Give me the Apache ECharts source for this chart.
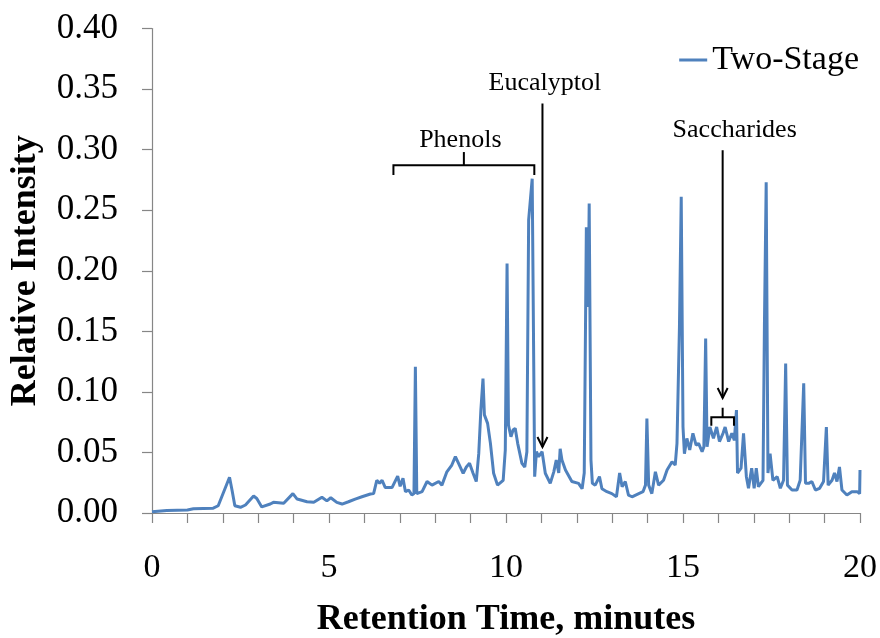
<!DOCTYPE html>
<html>
<head>
<meta charset="utf-8">
<script src="https://cdn.jsdelivr.net/npm/echarts@6/dist/echarts.min.js"></script>
<style>
  html, body { margin: 0; padding: 0; background: #fff; }
  #chart { width: 880px; height: 638px; }
</style>
</head>
<body>
<div id="chart"></div>
<script>
// retention time (minutes) and relative intensity
var retentionTime = [
  0.00, 0.42, 1.00, 1.17, 1.73, 1.87, 2.19, 2.26, 2.34, 2.50, 2.64, 2.87, 2.96, 3.10, 3.34, 3.43,
  3.72, 3.98, 4.10, 4.38, 4.57, 4.80, 4.94, 5.05, 5.22, 5.37, 5.55, 5.74, 5.93, 6.17, 6.26, 6.35,
  6.43, 6.50, 6.59, 6.68, 6.78, 6.94, 7.01, 7.09, 7.16, 7.25, 7.34, 7.40, 7.44, 7.48, 7.63, 7.77,
  7.91, 8.10, 8.19, 8.33, 8.47, 8.57, 8.66, 8.79, 8.88, 8.97, 9.07, 9.16, 9.23, 9.29, 9.35, 9.39,
  9.48, 9.56, 9.65, 9.76, 9.92, 9.98, 10.03, 10.07, 10.14, 10.20, 10.26, 10.33, 10.45, 10.53, 10.59, 10.64,
  10.74, 10.81, 10.86, 10.92, 11.02, 11.11, 11.25, 11.35, 11.42, 11.49, 11.53, 11.58, 11.68, 11.86, 12.05, 12.15,
  12.21, 12.27, 12.30, 12.32, 12.35, 12.40, 12.44, 12.52, 12.64, 12.71, 12.85, 12.99, 13.12, 13.21, 13.28, 13.37,
  13.46, 13.56, 13.75, 13.87, 13.94, 13.98, 14.03, 14.12, 14.22, 14.31, 14.45, 14.55, 14.69, 14.78, 14.83, 14.90,
  14.95, 15.00, 15.04, 15.11, 15.19, 15.28, 15.37, 15.44, 15.54, 15.59, 15.64, 15.68, 15.76, 15.86, 15.95, 16.03,
  16.13, 16.19, 16.29, 16.38, 16.45, 16.51, 16.54, 16.64, 16.71, 16.79, 16.85, 16.94, 17.01, 17.07, 17.13, 17.26,
  17.30, 17.35, 17.40, 17.46, 17.54, 17.66, 17.75, 17.84, 17.90, 17.95, 18.08, 18.22, 18.31, 18.41, 18.46, 18.55,
  18.64, 18.74, 18.86, 18.97, 19.05, 19.10, 19.21, 19.28, 19.35, 19.42, 19.49, 19.63, 19.77, 19.92, 19.99, 20.00
];
var twoStage = [
  0.001, 0.002, 0.0025, 0.0035, 0.004, 0.006, 0.0295, 0.019, 0.006, 0.0047, 0.0066, 0.014, 0.012, 0.005, 0.0074, 0.0088,
  0.008, 0.016, 0.0115, 0.0093, 0.0088, 0.013, 0.010, 0.0126, 0.0088, 0.0074, 0.0093, 0.0115, 0.0134, 0.0157, 0.016, 0.027,
  0.0245, 0.027, 0.021, 0.021, 0.021, 0.0305, 0.022, 0.0286, 0.0176, 0.019, 0.0148, 0.016, 0.1207, 0.016, 0.0176, 0.026,
  0.023, 0.026, 0.023, 0.034, 0.0396, 0.0465, 0.041, 0.0328, 0.038, 0.041, 0.0328, 0.026, 0.049, 0.085, 0.111, 0.081,
  0.074, 0.0575, 0.0328, 0.023, 0.027, 0.052, 0.206, 0.0726, 0.063, 0.0685, 0.0699, 0.0575, 0.041, 0.038, 0.0506, 0.242,
  0.276, 0.030, 0.0506, 0.0465, 0.0506, 0.0328, 0.0245, 0.034, 0.0437, 0.033, 0.053, 0.0437, 0.0355, 0.026, 0.0245, 0.020,
  0.033, 0.236, 0.2376, 0.17, 0.2555, 0.0437, 0.0245, 0.023, 0.030, 0.020, 0.0176, 0.016, 0.0134, 0.033, 0.0217, 0.026,
  0.0148, 0.0134, 0.016, 0.0176, 0.023, 0.078, 0.023, 0.016, 0.034, 0.023, 0.027, 0.0355, 0.0423, 0.0396, 0.0575, 0.154,
  0.261, 0.071, 0.049, 0.0616, 0.052, 0.0658, 0.056, 0.0575, 0.0506, 0.0547, 0.144, 0.0547, 0.071, 0.0616, 0.071, 0.059,
  0.0658, 0.071, 0.059, 0.0658, 0.060, 0.085, 0.033, 0.037, 0.0658, 0.030, 0.0204, 0.037, 0.0204, 0.037, 0.0217, 0.027,
  0.154, 0.273, 0.033, 0.049, 0.027, 0.030, 0.0204, 0.027, 0.1235, 0.023, 0.019, 0.019, 0.027, 0.107, 0.0245, 0.0245,
  0.026, 0.019, 0.0204, 0.026, 0.071, 0.023, 0.027, 0.033, 0.026, 0.038, 0.019, 0.0148, 0.0176, 0.0176, 0.016, 0.0355
];

// annotation anchors, in data units
var phenolsSpan = [6.82, 10.80];      // bracket ends (minutes)
var phenolsLevels = [0.279, 0.287, 0.298]; // leg bottom, bar, centre tick top
var phenolsLabel = [8.71, 0.308];
var eucalyptolArrow = [11.03, 0.338, 0.0545]; // x, top, tip
var eucalyptolLabel = [11.1, 0.355];
var sacchSpan = [15.80, 16.44];
var sacchLevels = [0.072, 0.079, 0.0869];
var sacchArrow = [16.12, 0.2995, 0.0949];
var sacchLabel = [16.46, 0.316];

var serif = '"Liberation Serif", "DejaVu Serif", serif';
var axisGrey = '#868686';

var chart = echarts.init(document.getElementById('chart'), null, { renderer: 'canvas' });

var seriesData = retentionTime.map(function (t, i) {
  return [t, twoStage[i]];
});

var option = {
  animation: false,
  backgroundColor: '#fff',
  grid: {
    left: 152,
    right: 20,
    top: 28.5,
    bottom: 125,
    containLabel: false,
    outerBoundsMode: 'none'
  },
  legend: {
    data: [{ name: 'Two-Stage', icon: 'rect' }],
    right: 16,
    top: 38,
    itemWidth: 28,
    itemHeight: 3,
    itemGap: 4,
    textStyle: {
      fontFamily: serif,
      fontSize: 34,
      color: '#000'
    }
  },
  xAxis: {
    type: 'value',
    min: 0,
    max: 20,
    interval: 1,
    name: 'Retention Time, minutes',
    nameLocation: 'middle',
    nameGap: 89,
    nameTextStyle: {
      fontFamily: serif,
      fontSize: 36,
      fontWeight: 'bold',
      color: '#000'
    },
    axisLine: { show: true, onZero: false, lineStyle: { color: axisGrey, width: 1.2 } },
    axisTick: { show: true, inside: false, length: 10, lineStyle: { color: axisGrey, width: 1.2 } },
    splitLine: { show: false },
    axisLabel: {
      margin: 38,
      fontFamily: serif,
      fontSize: 34,
      color: '#000',
      formatter: function (v) {
        return v % 5 === 0 ? String(v) : '';
      }
    }
  },
  yAxis: {
    type: 'value',
    min: 0,
    max: 0.4,
    interval: 0.05,
    name: 'Relative Intensity',
    nameLocation: 'middle',
    nameGap: 108,
    nameTextStyle: {
      fontFamily: serif,
      fontSize: 36,
      fontWeight: 'bold',
      color: '#000'
    },
    axisLine: { show: true, lineStyle: { color: axisGrey, width: 1.2 } },
    axisTick: { show: true, inside: false, length: 10, lineStyle: { color: axisGrey, width: 1.2 } },
    splitLine: { show: false },
    axisLabel: {
      margin: 34,
      fontFamily: serif,
      fontSize: 35,
      color: '#000',
      formatter: function (v) {
        return v.toFixed(2);
      }
    }
  },
  series: [{
    name: 'Two-Stage',
    type: 'line',
    symbol: 'none',
    showSymbol: false,
    color: '#4F81BD',
    lineStyle: { color: '#4F81BD', width: 3 },
    data: seriesData
  }]
};

chart.setOption(option);

// annotations placed through the chart's own scales
function px(t, v) {
  return chart.convertToPixel({ gridIndex: 0 }, [t, v]);
}

var ink = { stroke: '#000', lineWidth: 2, fill: null };

function bracket(span, levels) {
  var mid = (span[0] + span[1]) / 2;
  return [{
    type: 'polyline',
    shape: { points: [px(span[0], levels[0]), px(span[0], levels[1]), px(span[1], levels[1]), px(span[1], levels[0])] },
    style: ink,
    z: 100
  }, {
    type: 'line',
    shape: (function () {
      var a = px(mid, levels[1]), b = px(mid, levels[2]);
      return { x1: a[0], y1: a[1], x2: b[0], y2: b[1] };
    })(),
    style: ink,
    z: 100
  }];
}

function arrow(spec) {
  var top = px(spec[0], spec[1]);
  var tip = px(spec[0], spec[2]);
  return [{
    type: 'line',
    shape: { x1: top[0], y1: top[1], x2: tip[0], y2: tip[1] },
    style: ink,
    z: 100
  }, {
    type: 'polyline',
    shape: { points: [[tip[0] - 5, tip[1] - 10], tip, [tip[0] + 5, tip[1] - 10]] },
    style: ink,
    z: 100
  }];
}

function label(text, pos) {
  var p = px(pos[0], pos[1]);
  return {
    type: 'text',
    x: p[0],
    y: p[1],
    z: 100,
    style: {
      text: text,
      fontFamily: serif,
      fontSize: 26,
      fill: '#000',
      align: 'center',
      verticalAlign: 'middle'
    }
  };
}

var marks = []
  .concat(bracket(phenolsSpan, phenolsLevels))
  .concat(bracket(sacchSpan, sacchLevels))
  .concat(arrow(eucalyptolArrow))
  .concat(arrow(sacchArrow));
marks.push(label('Phenols', phenolsLabel));
marks.push(label('Eucalyptol', eucalyptolLabel));
marks.push(label('Saccharides', sacchLabel));

chart.setOption({ graphic: { elements: marks } });
</script>
</body>
</html>
